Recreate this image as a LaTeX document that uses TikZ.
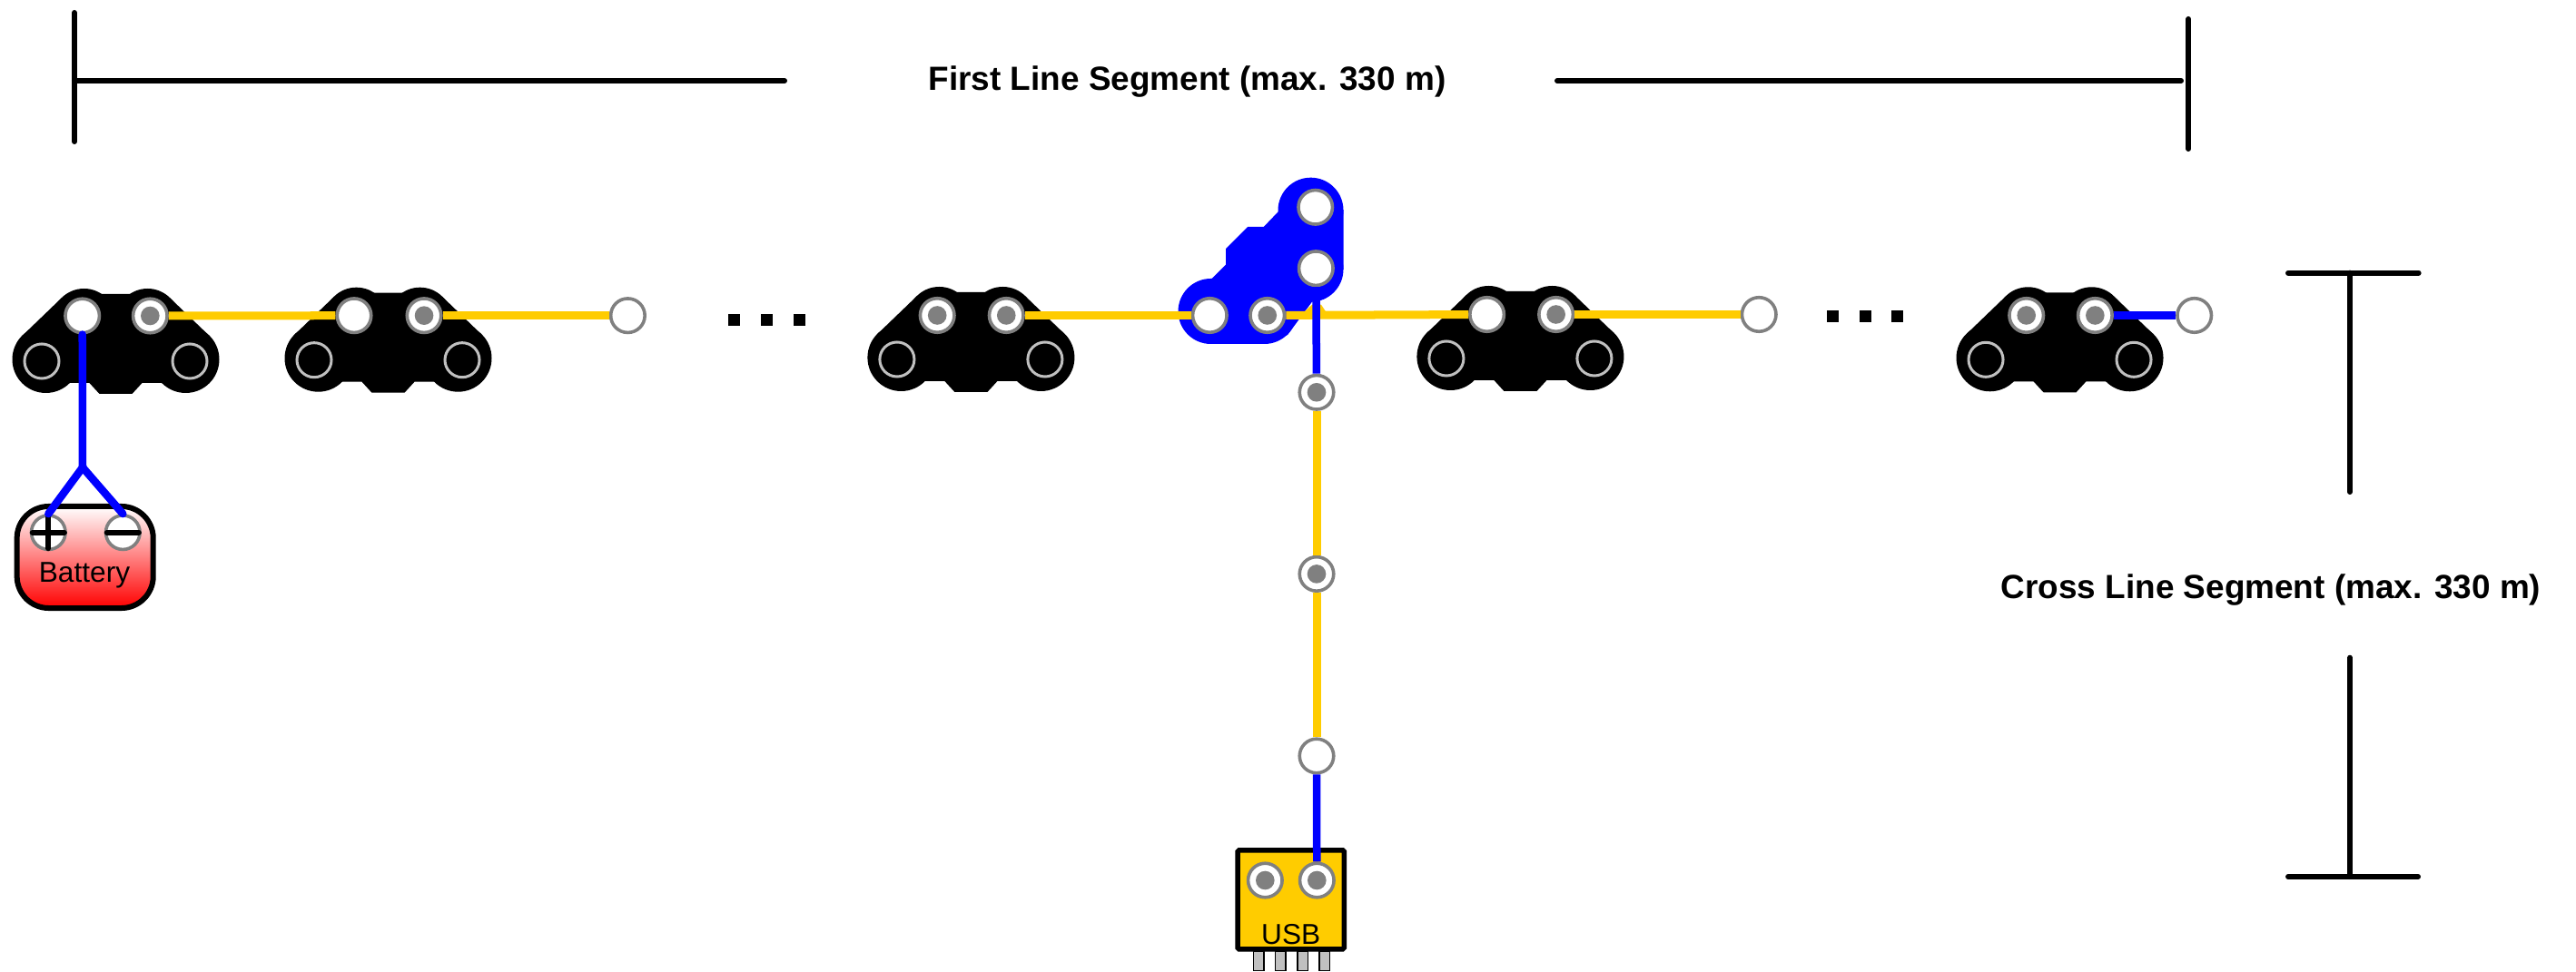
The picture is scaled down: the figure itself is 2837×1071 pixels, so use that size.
\documentclass[tikz,border=0pt]{standalone}
\usepackage{fontspec}
\setmainfont{Liberation Sans}

\definecolor{wireyellow}{HTML}{FFCC00}
\definecolor{wireblue}{HTML}{0000FF}
\definecolor{padgray}{HTML}{808080}
\definecolor{holesilver}{HTML}{C0C0C0}

\tikzset{
  openpad/.style={circle,draw=padgray,fill=white,line width=.036cm,minimum size=.375cm,inner sep=0pt},
  dotpad/.style={openpad,path picture={\fill[padgray] (path picture bounding box.center) circle[radius=.103cm];}},
  holepad/.style={circle,draw=holesilver,line width=.03cm,minimum size=.38cm,inner sep=0pt},
  yellowwire/.style={draw=wireyellow,line width=.09cm},
  bluewire/.style={draw=wireblue,line width=.085cm},
  forkwire/.style={bluewire,line cap=round,line join=round},
  signbar/.style={line width=.06cm,line cap=round,shorten >=.03cm,shorten <=.03cm},
  dimline/.style={line width=.06cm,line cap=round},
  dimlabel/.style={font=\fontsize{10.5}{12}\selectfont\bfseries,inner sep=0pt},
  partlabel/.style={font=\fontsize{9}{11}\selectfont,inner sep=0pt},
  batterybox/.style={rectangle,draw=black,line width=.06cm,rounded corners=.35cm,top color=white,bottom color=red,minimum width=1.5cm,minimum height=1.12cm},
  usbbox/.style={rectangle,draw=black,fill=wireyellow,line width=.055cm,rounded corners=.015cm,minimum width=1.17cm,minimum height=1.09cm},
  usbpin/.style={rectangle,draw=black,fill=holesilver,line width=.015cm,minimum width=.115cm,minimum height=.21cm,inner sep=0pt},
  sensorboard/.pic={
    \fill[black] (-17,-25) -- (17,-25) -- (59.7,-20.7) -- (103,21) -- (52,73) -- (29,73) -- (18,85)
      -- (-18,85) -- (-29,73) -- (-52,73) -- (-103,21) -- (-59.7,-20.7) -- cycle;
    \foreach \sx in {-1,1} {
      \fill[black] (\sx*35,4) circle[radius=35];
      \fill[black] (\sx*77,47) circle[radius=37];
    }
    \node[holepad] (-left)  at (-81.5,49) {};
    \node[holepad] (-right) at (81.5,49)  {};
  }
}

\begin{document}
\begin{tikzpicture}[x=.01cm,y=-.01cm,node distance=.76cm]
  \useasboundingbox (0,0) rectangle (2837,1071);

  \pic (bd1) at (127.5,349)  {sensorboard};
  \pic (bd2) at (427.5,347.7) {sensorboard};
  \pic (bd3) at (1069.4,347) {sensorboard};
  \pic (bd5) at (1674.4,346) {sensorboard};
  \pic (bd6) at (2268.5,347.3) {sensorboard};

  \fill[wireblue] (1335,306.7) -- (1350,291.7) -- (1350,274) -- (1374,250) -- (1391.7,250)
    -- (1407.7,233.3) -- (1443.5,200) -- (1479.5,231.7) -- (1479.5,296.7) -- (1445,332.5)
    -- (1418,369) -- (1392.5,379) -- (1333.5,379) -- (1333.5,307) -- cycle;
  \fill[wireblue] (1443.5,231.7) circle[radius=36];
  \fill[wireblue] (1443.5,296.7) circle[radius=36];
  \fill[wireblue] (1333.5,343)   circle[radius=36];
  \fill[wireblue] (1392.5,343)   circle[radius=36];
  \fill[wireyellow] (1436.7,343.3) -- (1445,335.7) -- (1455,335.7) -- (1460,343.3) -- cycle;

  \node[openpad] (bd1a) at (90.7,348)    {};
  \node[dotpad]  (bd1b) [right of=bd1a,node distance=.746cm] {};
  \node[openpad] (bd2a) at (390,347.7)   {};
  \node[dotpad]  (bd2b) [right of=bd2a,node distance=.77cm]  {};
  \node[openpad] (end2) at (691.4,347.7) {};
  \node[dotpad]  (bd3a) at (1032.2,347.5)  {};
  \node[dotpad]  (bd3b) [right of=bd3a]  {};
  \node[openpad] (bd4a) at (1332.3,347.5) {};
  \node[dotpad]  (bd4b) [right of=bd4a,node distance=.634cm] {};
  \node[openpad] (bd4c) at (1449.3,295.7) {};
  \node[openpad] (bd4d) at (1448.7,228.3) {};
  \node[openpad] (bd5a) at (1637.6,346.5)  {};
  \node[dotpad]  (bd5b) [right of=bd5a]  {};
  \node[openpad] (end5) at (1937.2,346.5)  {};
  \node[dotpad]  (bd6a) at (2231.7,347.5) {};
  \node[dotpad]  (bd6b) [right of=bd6a,node distance=.756cm] {};
  \node[openpad] (end6) at (2416.7,347.5) {};

  \node[dotpad]  (cross1) at (1450,432.3) {};
  \node[dotpad]  (cross2) [below of=cross1,node distance=2cm]    {};
  \node[openpad] (cross3) [below of=cross2,node distance=2.004cm] {};

  \node[batterybox] (battery) at (93.7,614) {};
  \node[openpad] (batplus)  at (53.3,586.7)  {};
  \node[openpad] (batminus) at (135.3,586.7) {};
  \node[partlabel] (batlabel) at (93,634) {Battery};
  \draw[signbar] (batplus.west)  -- (batplus.east);
  \draw[signbar] (batplus.north) -- (batplus.south);
  \draw[signbar] (batminus.west) -- (batminus.east);

  \foreach \pinx/\pinname in {1386/a,1410/b,1434.7/c,1458.7/d}
    \node[usbpin] (pin\pinname) at (\pinx,1059) {};
  \node[usbbox] (usb) at (1421.7,991.3) {};
  \node[dotpad] (usba) at (1393.3,970) {};
  \node[dotpad] (usbb) at (1450.3,970) {};
  \node[partlabel] (usblabel) at (1421.7,1030) {USB};

  \path (bd1b) edge[yellowwire] (bd2a)
        (bd2b) edge[yellowwire] (end2)
        (bd3b) edge[yellowwire] (bd4a)
        (bd4b) edge[yellowwire] (bd5a)
        (bd5b) edge[yellowwire] (end5)
        (cross1) edge[yellowwire] (cross2)
        (cross2) edge[yellowwire] (cross3);
  \path (bd6b) edge[bluewire] (end6)
        (bd4c) edge[bluewire] (cross1)
        (cross3) edge[bluewire] (usbb);

  \coordinate (fork) at (91,515);
  \path (bd1a) edge[forkwire] (fork)
        (fork) edge[forkwire] (batplus.north)
        (fork) edge[forkwire] (batminus.north);

  \foreach \dotx in {802.4,838,873.5}
    \fill[black] (\dotx,346) rectangle ++(13,13);
  \foreach \dotx in {2011.9,2047.5,2083}
    \fill[black] (\dotx,342.3) rectangle ++(13,13);

  \node[dimlabel] (firstlabel) at (1307.5,90.5)  {First Line Segment (max. 330 m)};
  \node[dimlabel] (crosslabel) at (2501,650.5) {Cross Line Segment (max. 330 m)};

  \coordinate (firstA) at (82,89);
  \coordinate (firstB) at (864,89);
  \coordinate (firstC) at (1715,89);
  \coordinate (firstD) at (2402,89);
  \coordinate (tickAa) at (82,14);
  \coordinate (tickAb) at (82,156);
  \coordinate (tickBa) at (2410.3,21);
  \coordinate (tickBb) at (2410.3,164);
  \coordinate (crossA) at (2588,300.7);
  \coordinate (crossB) at (2588,542);
  \coordinate (crossC) at (2588,724.7);
  \coordinate (crossD) at (2588,966);
  \coordinate (capAa)  at (2520,300.7);
  \coordinate (capAb)  at (2663.6,300.7);
  \coordinate (capBa)  at (2520,966);
  \coordinate (capBb)  at (2663,966);

  \path (firstA) edge[dimline] (firstB)
        (firstC) edge[dimline] (firstD)
        (tickAa) edge[dimline] (tickAb)
        (tickBa) edge[dimline] (tickBb)
        (crossA) edge[dimline] (crossB)
        (crossC) edge[dimline] (crossD)
        (capAa)  edge[dimline] (capAb)
        (capBa)  edge[dimline] (capBb);
\end{tikzpicture}
\end{document}
